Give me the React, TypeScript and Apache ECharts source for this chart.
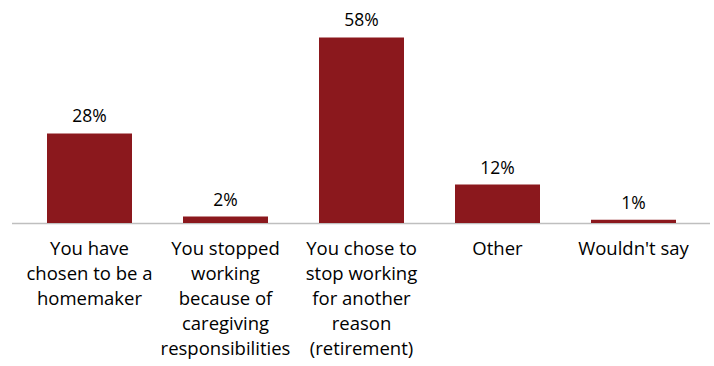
import React, { useEffect, useRef } from "react";
import * as echarts from "echarts";

const categories = [
  "You have\nchosen to be a\nhomemaker",
  "You stopped\nworking\nbecause of\ncaregiving\nresponsibilities",
  "You chose to\nstop working\nfor another\nreason\n(retirement)",
  "Other",
  "Wouldn't say",
];
const values = [28, 2, 58, 12, 1];

const FONT = "'Open Sans', 'Noto Sans', sans-serif";

export default function App() {
  const ref = useRef<HTMLDivElement>(null);
  useEffect(() => {
    if (!ref.current) return;
    const chart = echarts.init(ref.current, undefined, { renderer: "svg" });
    chart.setOption({
      animation: false,
      grid: { left: 21.5, width: 680, top: 31, height: 192, containLabel: false },
      graphic: [
        {
          type: "line",
          z: 0,
          shape: { x1: 12, y1: 223.5, x2: 710, y2: 223.5 },
          style: { stroke: "#BFBFBF", lineWidth: 1.5 },
        },
      ],
      xAxis: {
        type: "category",
        data: categories,
        axisLine: { show: false },
        axisTick: { show: false },
        axisLabel: {
          interval: 0,
          color: "#000",
          fontFamily: FONT,
          fontSize: 18.5,
          lineHeight: 25,
          margin: 12,
        },
      },
      yAxis: {
        type: "value",
        min: 0,
        max: 60,
        show: false,
        splitLine: { show: false },
      },
      series: [
        {
          type: "bar",
          data: values,
          barWidth: 85,
          z: 2,
          itemStyle: { color: "#8B181D" },
          label: {
            show: true,
            position: "top",
            distance: 9,
            formatter: "{c}%",
            color: "#000",
            fontFamily: FONT,
            fontSize: 17.5,
          },
        },
      ],
    });
    return () => chart.dispose();
  }, []);
  return <div ref={ref} style={{ width: 714, height: 366, position: "absolute", left: 0, top: 0 }} />;
}
